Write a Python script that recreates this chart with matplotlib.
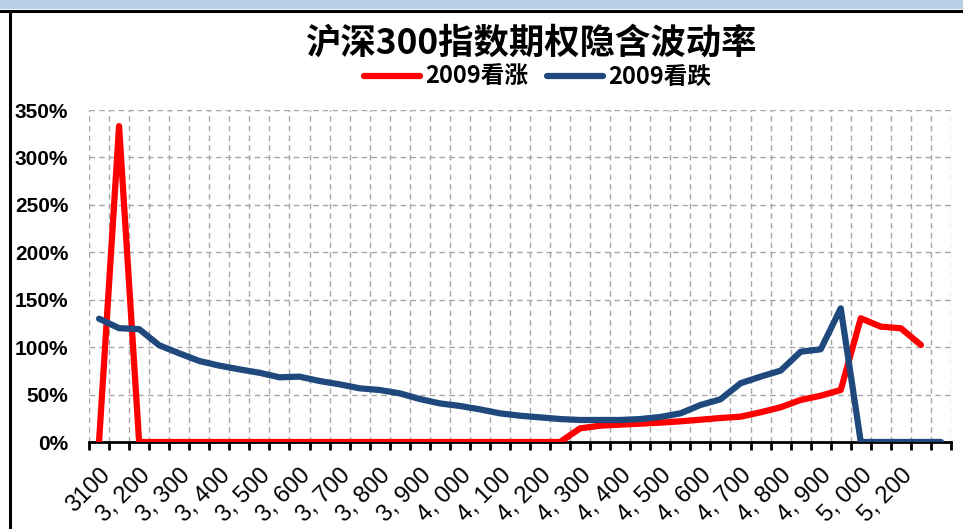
import numpy as np
import matplotlib
matplotlib.use("Agg")
import matplotlib.pyplot as plt
from matplotlib.lines import Line2D
from matplotlib.patches import Rectangle

plt.rcParams['font.family'] = ['Noto Sans CJK SC', 'DejaVu Sans']

# Strike categories (x axis)
strikes = [3100, 3150, 3200, 3250, 3300, 3350, 3400, 3450, 3500, 3550,
           3600, 3650, 3700, 3750, 3800, 3850, 3900, 3950, 4000, 4050,
           4100, 4150, 4200, 4250, 4300, 4350, 4400, 4450, 4500, 4550,
           4600, 4650, 4700, 4750, 4800, 4850, 4900, 4950, 5000, 5100,
           5200, 5300, 5400]

tick_labels = ["3100", "3, 200", "3, 300", "3, 400", "3, 500", "3, 600",
               "3, 700", "3, 800", "3, 900", "4, 000", "4, 100", "4, 200",
               "4, 300", "4, 400", "4, 500", "4, 600", "4, 700", "4, 800",
               "4, 900", "5, 000", "5, 200"]

# implied volatility, percent
call_2009 = [0, 333, 0, 0, 0, 0, 0, 0, 0, 0,
             0, 0, 0, 0, 0, 0, 0, 0, 0, 0,
             0, 0, 0, 0, 14.4, 17.2, 18.3, 19.3, 20.4, 21.8,
             23.5, 25.3, 26.7, 31.3, 36.6, 44.3, 48.8, 54.8, 130.4, 121.6,
             119.9, 102.3, np.nan]
put_2009 = [130, 120, 119, 102, 93.5, 85.4, 80.5, 76.6, 73, 68.2,
            68.9, 64.3, 60.8, 56.6, 54.8, 51.3, 45.3, 40.7, 38.0, 34.4,
            30.2, 27.7, 26.0, 24.2, 23.2, 23.2, 23.2, 24.2, 26.4, 30.2,
            39.0, 45.0, 61.9, 68.9, 75.2, 95.2, 97.7, 140.9, 0, 0,
            0, 0, 0]

W, H = 963, 529
fig = plt.figure(figsize=(W / 100, H / 100), dpi=100)
ax = fig.add_axes([89 / W, 1 - 442 / H, (951 - 89) / W, (442 - 110) / H])

x = np.arange(len(strikes))
ax.plot(x, call_2009, color="#FF0000", lw=4.5, solid_capstyle="round",
        solid_joinstyle="round", label="2009看涨", zorder=3)
ax.plot(x, put_2009, color="#1F497D", lw=4.5, solid_capstyle="round",
        solid_joinstyle="round", label="2009看跌", zorder=3)

ax.set_xlim(-0.5, len(strikes) - 0.5)
ax.set_ylim(0, 350)

# y axis
ax.set_yticks(np.arange(0, 351, 50))
ax.set_yticklabels(["{:d}%".format(v) for v in range(0, 351, 50)],
                   family="Liberation Sans", fontweight="bold", fontsize=15)
ax.tick_params(axis="y", length=0, pad=15)

# x axis: labels on every second category, ticks between categories
ax.set_xticks(x[0:41:2])
ax.set_xticklabels(tick_labels, rotation=45, ha="right", va="top",
                   rotation_mode="anchor", family="Liberation Sans",
                   fontsize=17)
ax.tick_params(axis="x", which="major", length=0, pad=16)
ax.set_xticks(np.arange(-0.5, len(strikes), 1), minor=True)
ax.tick_params(axis="x", which="minor", length=6, width=2, direction="out",
               color="black")

ax.grid(True, which="minor", axis="x", color="#A6A6A6", ls=(0, (4, 3)), lw=1)
ax.grid(True, which="major", axis="y", color="#A6A6A6", ls=(0, (4, 3)), lw=1)
ax.set_axisbelow(True)

for s in ["top", "right", "left"]:
    ax.spines[s].set_visible(False)
ax.spines["bottom"].set_linewidth(2)

fig.text(0.552, 1 - 43 / H, "沪深300指数期权隐含波动率", ha="center",
         va="center", fontsize=25.5, fontweight="bold")
fig.legend(loc="center", bbox_to_anchor=(0.558, 1 - 77 / H), ncol=2,
           frameon=False, prop={"size": 17, "weight": "bold"},
           handlelength=2.4, handletextpad=0.2, columnspacing=0.8)

# frame decoration
fig.patches.append(Rectangle((0, 1 - 9 / H), 1, 9 / H, transform=fig.transFigure,
                             facecolor="#B9CDE5", edgecolor="none"))
fig.lines.append(Line2D([0, 1], [1 - 10.5 / H] * 2, transform=fig.transFigure,
                        color="black", lw=2.2))
fig.lines.append(Line2D([10 / W] * 2, [0, 1 - 10.5 / H],
                        transform=fig.transFigure, color="black", lw=2.2))

fig.savefig("out.png", dpi=100)
